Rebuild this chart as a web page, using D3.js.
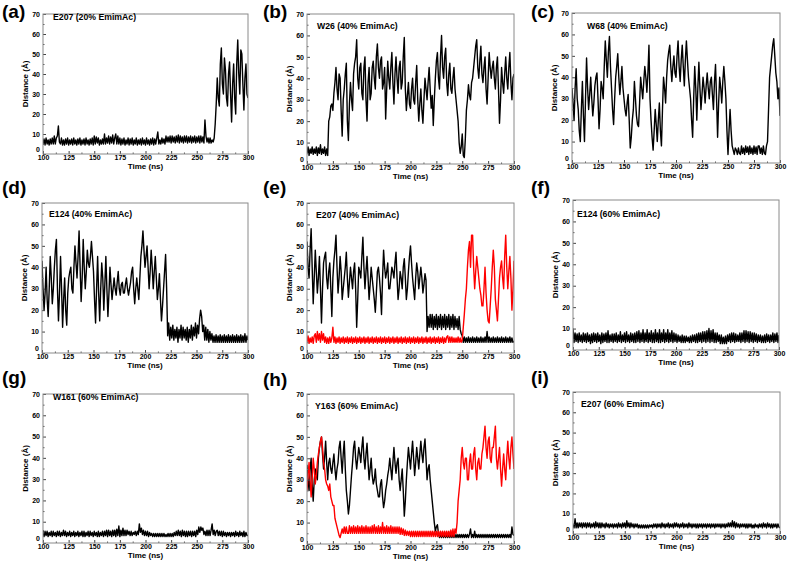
<!DOCTYPE html>
<html><head><meta charset="utf-8">
<script src="https://cdn.jsdelivr.net/npm/d3@7"></script>
<style>body{margin:0;background:#fff}svg{display:block}text{font-family:"Liberation Sans",Arial,sans-serif;font-weight:bold}</style>
</head><body><svg id="chart" width="787" height="566"></svg>
<script>
// ---- data (time 100..300 ns, every 1 ns) ----
const time = d3.range(100, 301, 1);
const xTicks = [100,125,150,175,200,225,250,275,300];
const yTicks = [0,10,20,30,40,50,60,70];
const panelLabels = ["(a)","(b)","(c)","(d)","(e)","(f)","(g)","(h)","(i)"];
const panelTitles = ["E207 (20% EmimAc)","W26 (40% EmimAc)","W68 (40% EmimAc)","E124 (40% EmimAc)","E207 (40% EmimAc)","E124 (60% EmimAc)","W161 (60% EmimAc)","Y163 (60% EmimAc)","E207 (60% EmimAc)"];

const a_black = [
5,7.5,4.5,8,5,7,4.5,7.5,5,8, 5,9,5,8,9,14,6,5,8,4.5,
7,4.5,7.5,5,8,4.5,7,5,7.5,4.5, 8,5,7,4.5,7.5,5,8,4.5,7,5,
7.5,4.5,8,5,7,4.5,7.5,5,8,4.5, 9,5,8.5,5.5,8,4.5,7,5,7.5,5,
10,5,8,5.5,9,5,8.5,5.5,9.5,5, 8,10,5,9,5,8,4.5,7.5,5,8,
4.5,7,5,8,4.5,7.5,5,8,4.5,7, 5,8,4.5,7,5,7.5,4.5,8,5,7,
4.5,8,5,7,4.5,7.5,5,8,4.5,7.5, 5,8,11,5,7,5,8,5.5,7.5,5,
9,6,8.5,6,9,5.5,9,6,8.5,5.5, 9,6,9.5,5.5,9,6,8.5,5.5,9,6,
9,5.5,8.5,6,9,5.5,8.5,6,9,5.5, 8.5,6,9,5.5,9,6,8.5,5.5,17,9,
6,8,5.5,8,5.5,7,6,8,15,25, 38,28,24,45,53,35,30,48,42,28,
24,40,46,30,16,35,45,28,20,45, 57,40,30,52,50,35,22,38,45,30,
28];
const b_black = [
5,8,4,7,5,8,4.5,7,5,8, 4,7.5,5,9,4.5,7,5,8,4,7,
4,20,22,27,28,25,33,38,45,35, 30,42,40,25,13,30,35,42,47,20,
11,28,38,30,25,42,47,50,58,40, 35,45,47,33,30,45,50,30,20,38,
45,30,33,45,48,40,35,50,56,45, 40,48,50,35,38,45,21,35,48,40,
35,45,52,38,28,42,50,40,33,45, 48,35,38,50,59,35,25,32,38,28,
26,35,40,30,28,38,46,30,20,28, 35,25,19,30,40,35,30,38,45,35,
26,32,18,30,40,48,52,40,35,50, 60,45,40,50,54,38,32,42,47,35,
33,40,45,35,30,25,20,10,5,8, 14,4,3,12,25,30,37,32,30,38,
40,45,50,55,58,45,40,48,55,42, 38,45,50,35,28,40,52,45,40,45,
48,40,35,45,50,35,19,30,45,38, 33,42,50,40,35,45,52,38,30,40,
42];
const c_black = [
35,28,20,35,44,30,25,15,10,25, 38,22,10,30,49,35,25,32,40,30,
22,28,36,40,42,30,16,25,38,35, 30,45,57,48,40,52,59,45,35,25,
18,30,40,45,51,40,32,38,45,35, 30,25,22,28,32,20,7,12,20,25,
38,30,22,18,17,28,40,35,30,38, 45,40,33,42,55,30,20,12,6,15,
25,18,10,20,28,15,8,25,40,35, 28,40,48,52,55,45,38,45,50,42,
40,50,57,45,38,48,55,45,36,48, 57,48,40,35,30,20,12,30,45,35,
20,35,47,35,25,32,40,35,28,36, 42,35,30,38,40,32,25,38,46,30,
12,28,40,35,28,38,45,38,30,15, 4,15,25,15,8,6,4,7,6,4,
7,4.5,4,8,4.5,7,4,8,5,7.5, 4,8,4.5,7,4,8,4.5,7.5,4,8,
8,4.5,7,4,8,4.5,4,8,10,25, 40,45,50,55,58,50,42,38,30,35,
22];
const d_black = [
43,30,20,28,40,25,17,30,45,35, 23,30,40,48,53,30,15,28,45,30,
12,25,35,20,13,28,35,38,40,30, 28,40,50,42,35,45,57,40,24,35,
53,40,30,38,48,42,40,45,52,45, 38,25,14,30,45,28,15,30,42,35,
20,32,45,30,17,28,40,32,25,30, 35,30,27,33,38,30,27,32,33,28,
28,32,35,30,27,30,33,38,40,30, 23,30,35,30,25,35,45,50,57,48,
40,45,50,40,30,38,48,40,30,38, 45,35,25,30,37,25,15,22,30,38,
46,30,8,14,6,12,7,13,6,11, 7,12,5,11,7,13,6,12,7,11,
6,12,5,11,7,13,6,12,8,14, 7,13,9,16,20,17,10,13,6,12,
6,11,5,10,6,9,5,8,5,8.5, 5,8,5,8.5,5,8,5,8.5,5,8,
5,8.5,5,8,5,8.5,5,8,5,8.5, 5,8,5,8.5,5,8,5,9,5,8,
6];
const e_black = [
52,40,35,48,58,40,23,35,48,38, 28,35,45,30,14,30,42,45,47,35,
30,38,42,30,17,35,43,48,55,40, 28,35,45,38,25,30,35,40,47,35,
26,33,40,35,30,38,42,30,12,25, 40,38,35,45,54,40,30,38,45,35,
25,32,40,35,30,25,19,28,38,40, 35,28,18,35,48,40,35,38,42,30,
30,35,40,38,35,42,47,35,25,30, 38,35,30,40,44,35,25,30,38,45,
50,42,35,30,25,35,42,38,30,35, 40,35,28,32,37,34,10,17,12,18,
12,18,11,17,12,18,11,17,12,18, 11,17,12,18,11,17,12,18,11,17,
12,18,11,17,12,16,11,17,11,9, 8,5,7.5,5,7,5,7.5,5,7,5,
7.5,5,7,5,7.5,5,7,5,7.5,5, 7,5,7.5,5,10,5,7.5,5,7,5,
7.5,5,7,5,7.5,5,7,5,7.5,5, 7,5,7.5,5,7,5,7.5,5,7,5,
5.5];
const e_red = [
5,8,4.5,7,5,7.5,4.5,8,9,5, 10,6,9,5,10,6,9,5,7.5,4.5,
7,4.5,7.5,5,7,12,5,7.5,4.5,7, 5,7.5,4.5,7,5,7.5,4.5,7,5,7.5,
4.5,7,5,7.5,4.5,7,5,7.5,4.5,7, 5,7.5,4.5,7,5,7.5,4.5,7,5,7.5,
4.5,7,5,7.5,4.5,7,5,7.5,4.5,7, 5,7.5,4.5,7,5,7.5,4.5,7,5,7.5,
4.5,7,5,7.5,4.5,7,5,7.5,4.5,7, 5,7.5,4.5,7,5,7.5,4.5,7,5,7.5,
4.5,7,5,7.5,4.5,7,5,7.5,4.5,7, 5,7.5,4.5,7,5,7.5,4.5,7,5,7.5,
4.5,7,5,7.5,4.5,7,5,7.5,4.5,7, 5,7.5,4.5,7,5,7.5,8,5,7.5,5,
7.5,5,7,5,7,5,7.5,5,7,5, 6,12,18,25,30,40,48,52,40,55,
55,40,30,38,45,40,35,30,27,22, 22,30,40,28,20,15,14,22,30,40,
48,40,25,20,15,25,35,40,43,35, 30,45,55,40,30,38,45,35,20,30,
43];
const f_black = [
10,3.5,8,4,7.5,3.5,8,4,7,3.5, 8,4,7.5,3.5,8,4,7,3,7.5,3.5,
8,4,7.5,3.5,8,4,7,3,8,3.5, 7.5,4,8,3.5,9,3.5,7,4,7.5,3.5,
7.5,4,8,3.5,7,4,8.5,3.5,7,4, 8,3.5,8.5,4,7,3.5,8,4,7.5,3.5,
8,3.5,8.5,4,9,3.5,8,4,9.5,3.5, 8,4,9.5,3.5,8,4,9,3.5,8,3.5,
9.5,4,8,3.5,9.5,3.5,8,4,9.5,3.5, 8,4,9.5,3.5,8,4,9,3.5,8,4,
7.5,3.5,7,4,6.5,3.5,7,3.5,6.5,3.5, 6.5,4,6,3.5,6.5,3.5,7,4,7,3.5,
7.5,3.5,8,4,8,3.5,8.5,4,8.5,3.5, 9,4,10,3.5,9,4,9.5,3.5,8,3.5,
8,4,7,3,7,3,6,3,6.5,3, 7,4,7.5,3.5,8,4,8,3.5,7.5,4,
7,4,8,3.5,8,4,9,3.5,9,4, 8.5,3.5,8.5,4,8,3.5,8,4,7.5,3.5,
7,4,7,3.5,6.5,3.5,7,3.5,7.5,4, 7,3.5,7,4,8,3.5,7.5,4,8,3.5,
7];
const g_black = [
6,3,5.5,3.5,5.5,3,5,3.5,5.5,3, 5.5,3.5,5,3,5.5,3.5,5.5,3,5,3.5,
6,3.5,5.5,3,5,3.5,5.5,3,5,3.5, 5.5,3,5,3.5,5.5,3,5,3.5,5.5,3,
5.5,3,5,3.5,5.5,3,5.5,3.5,5,3, 5.5,3.5,5,3,5.5,3,5,3.5,5.5,3,
5.5,3.5,6,3,6,3.5,5.5,3,6,3.5, 6,3,6.5,3.5,8,3,6,3.5,7,3.5,
6,3.5,6,4,5.5,3.5,5.5,3.5,5,4, 5.5,3.5,5.5,4,9,5,7,4,6,3.5,
5.5,3.5,5.5,3,5,3.5,4.5,3,4.5,3, 4.5,3,4.5,3,4.5,3,4.5,3,4.5,3,
4,3,4.5,3,4.5,3,4.5,3,5,3.5, 5.5,3.5,6,3.5,5.5,3,6,3.5,5.5,3,
5.5,3,5.5,3.5,5.5,3,5.5,3.5,5.5,3, 6,4,7.5,5,7.5,6,7,4,5.5,3.5,
6,3.5,6,3.5,6,9,4,6,3.5,5.5, 6,3.5,5.5,3.5,5.5,3,5.5,3.5,5,3,
5,3.5,5,3,5,3.5,5,3,5.5,3.5, 5,3,5.5,3.5,5,3,5.5,3,5,3.5,
3.5];
const h_black = [
37,30,25,35,40,28,20,30,35,32, 30,40,45,48,50,42,35,40,48,38,
30,38,40,35,33,38,42,35,30,35, 38,45,48,40,33,42,48,35,25,20,
14,18,25,32,38,45,48,40,35,40, 45,42,38,45,50,40,35,42,47,38,
30,35,40,32,28,30,35,28,25,22, 22,28,30,22,17,20,25,28,32,35,
40,35,30,38,45,38,33,38,40,30, 25,30,35,25,13,20,30,38,45,40,
35,42,48,40,32,38,45,40,35,42, 48,42,38,45,49,40,30,35,37,30,
25,20,15,10,6,8,9,5,3,4.5, 3,4.5,3,4.5,3,4.5,3,4.5,3,4.5,
3,4.5,3,4.5,3,4.5,3,4.5,3,4.5, 3,4.5,3,4.5,3,4.5,3,4.5,7,3,
4.5,3,6,3,4.5,3,4.5,3,4.5,3, 4.5,3,4.5,3,4.5,3,4.5,3,4.5,3,
4.5,3,4.5,3,4.5,3,4.5,3,4.5,3, 4.5,3,4.5,3,4.5,3,4.5,3,8,4.5,
4];
const h_red = [
25,32,38,30,22,30,40,35,28,32, 38,42,45,48,50,45,38,35,30,28,
27,25,28,22,20,18,18,12,10,8, 6,4,3,5,7,5,8,5,8,5,
5,8.5,5,8,5,8.5,5,8,5,8.5, 5,8,5,8.5,5,8,5,8.5,5,8,
5,8,5,8.5,5,9,5,8,5,8.5, 5,8,5,10,5,8,5,8.5,5,8,
5,8.5,5,8,5,8,5,8,5,8, 4.5,7.5,4.5,7,4,6.5,4,6,4,6,
3.5,6,3.5,6,3.5,6,3.5,6,3.5,6, 3.5,6,3.5,6,3.5,6,3.5,6,3.5,6,
3.5,6,3.5,6,3.5,6,3.5,6,3.5,6, 3.5,6,3.5,6,3.5,6,3.5,6,3.5,6.5,
3.5,7,3.5,7,5,10,20,25,30,40, 45,38,35,40,40,30,30,38,42,35,
35,42,45,35,30,38,40,35,35,42, 45,50,55,45,40,48,50,40,38,45,
45,50,55,40,35,40,45,35,27,35, 42,35,30,40,48,40,35,45,50,42,
35];
const i_black = [
5,3,7.5,3,5.5,3,5.5,3.5,5.5,3, 5.5,3.5,5.5,3,5.5,3.5,5.5,3,5,3.5,
5.5,3,6,3.5,5.5,3,5.5,3,5.5,3.5, 5,3,5.5,3.5,5,3,5,3.5,5,3,
5,3.5,5,3,5.5,3.5,5,3,5.5,3.5, 5.5,3,6.5,3.5,5.5,3,5.5,3.5,5,3,
5,3.5,5,3,4.5,3,4.5,3,4.5,3, 4.5,3,4.5,3,4.5,3.5,4.5,3,5,3.5,
5,3,5,3.5,5,3,5.5,3.5,5,3, 5,3.5,5.5,3,5,3.5,5,3,5.5,3.5,
5.5,3.5,5,3,5,3.5,5.5,3,5,3.5, 5,3,5.5,3.5,5,3,5,3.5,5,3,
5,3,5,3.5,5,3,5,3.5,5,3, 5,3.5,5,3,5,3.5,5,3,5,3.5,
5,3.5,5,3,5,3.5,5,3,5,3.5, 5.5,3.5,5.5,3.5,6.5,3.5,6,3,5.5,3.5,
5,3,5,3.5,5,3.5,5,3,5,3, 5,3.5,5,3,4.5,3,5,3.5,4.5,3,
5,3.5,5,3,5.5,3.5,5,3,5.5,3.5, 5,3,5,3,5,3.5,5,3,5,3.5,
3];

const panelSeries = [
  [{v:a_black,c:"#000"}],
  [{v:b_black,c:"#000"}],
  [{v:c_black,c:"#000"}],
  [{v:d_black,c:"#000"}],
  [{v:e_black,c:"#000"},{v:e_red,c:"#ff0000"}],
  [{v:f_black,c:"#000"}],
  [{v:g_black,c:"#000"}],
  [{v:h_black,c:"#000"},{v:h_red,c:"#ff0000"}],
  [{v:i_black,c:"#000"}]
];

// ---- layout ----
const boxes = [
  {l:43,r:248,t:14,b:154, lx:2,ly:18, tx:53,ty:19.5},
  {l:307,r:514,t:14,b:164, lx:263,ly:18, tx:317,ty:28.5},
  {l:572,r:780,t:13,b:163, lx:531,ly:18, tx:587,ty:28.5},
  {l:42,r:248,t:203,b:353, lx:2,ly:194, tx:49,ty:216.5},
  {l:307,r:514,t:203,b:353, lx:263,ly:194, tx:316,ty:217.5},
  {l:573,r:779,t:200,b:350, lx:531,ly:194, tx:577,ty:216.5},
  {l:43,r:248,t:394,b:543, lx:2,ly:384, tx:53,ty:399.5},
  {l:307,r:514,t:394,b:544, lx:263,ly:386, tx:315,ty:408.5},
  {l:573,r:780,t:392,b:534, lx:531,ly:384, tx:581,ty:406.5}
];

const svg = d3.select("#chart");
svg.append("rect").attr("width",787).attr("height",566).attr("fill","#fff");

boxes.forEach((B,k)=>{
  const x = d3.scaleLinear().domain([100,300]).range([B.l,B.r]);
  const y = d3.scaleLinear().domain([0,70]).range([B.b,B.t]);
  const g = svg.append("g");
  const cid = "clip"+k;
  g.append("clipPath").attr("id",cid).append("rect")
    .attr("x",B.l).attr("y",B.t).attr("width",B.r-B.l).attr("height",B.b-B.t);

  const line = d3.line().defined((d,i)=>i<time.length).x((d,i)=>x(time[i])).y(d=>y(d));
  panelSeries[k].forEach(s=>{
    g.append("path").datum(s.v).attr("d",line)
      .attr("fill","none").attr("stroke",s.c).attr("stroke-width",1.4)
      .attr("stroke-linejoin","round").attr("clip-path","url(#"+cid+")");
  });

  // minor ticks
  const xMinor = d3.range(112.5,300,25);
  const yMinor = d3.range(5,70,10);
  g.append("g").attr("transform",`translate(0,${B.b})`)
    .call(d3.axisBottom(x).tickValues(xMinor).tickSize(-1.5).tickFormat(""))
    .call(s=>s.select(".domain").remove())
    .call(s=>s.selectAll("line").attr("stroke","#555"));
  g.append("g").attr("transform",`translate(${B.l},0)`)
    .call(d3.axisLeft(y).tickValues(yMinor).tickSize(-1.5).tickFormat(""))
    .call(s=>s.select(".domain").remove())
    .call(s=>s.selectAll("line").attr("stroke","#555"));

  // major axes
  const xa = g.append("g").attr("transform",`translate(0,${B.b})`)
    .call(d3.axisBottom(x).tickValues(xTicks).tickSize(-3).tickPadding(1).tickFormat(d3.format("d")));
  xa.select(".domain").remove();
  xa.selectAll("line").attr("stroke","#444");
  xa.selectAll("text").attr("font-size",7).attr("font-weight","bold").attr("font-family","Liberation Sans, Arial, sans-serif").attr("fill","#000");
  const ya = g.append("g").attr("transform",`translate(${B.l},0)`)
    .call(d3.axisLeft(y).tickValues(yTicks).tickSize(-3).tickPadding(3).tickFormat(d3.format("d")));
  ya.select(".domain").remove();
  ya.selectAll("line").attr("stroke","#444");
  ya.selectAll("text").attr("font-size",7).attr("font-weight","bold").attr("font-family","Liberation Sans, Arial, sans-serif").attr("fill","#000");
  // lift the "0" label so it clears the first time label, as in the reference
  ya.selectAll(".tick").filter(d=>d===0).select("text").attr("dy","-0.3em");

  // frame
  g.append("rect").attr("x",B.l).attr("y",B.t).attr("width",B.r-B.l).attr("height",B.b-B.t)
    .attr("fill","none").attr("stroke","#8a8a8a").attr("stroke-width",1);

  // axis titles
  g.append("text").attr("x",(B.l+B.r)/2).attr("y",B.b+15).attr("text-anchor","middle")
    .attr("font-size",8).text("Time (ns)");
  g.append("text").attr("transform",`translate(${B.l-17.5},${(B.t+B.b)/2}) rotate(-90)`)
    .attr("text-anchor","middle").attr("dy","0.35em").attr("font-size",8).text("Distance (Å)");

  // panel title and label
  g.append("text").attr("x",B.tx).attr("y",B.ty).attr("font-size",8.7).text(panelTitles[k]);
  g.append("text").attr("x",B.lx).attr("y",B.ly).attr("font-size",19).text(panelLabels[k]);
});
</script></body></html>
